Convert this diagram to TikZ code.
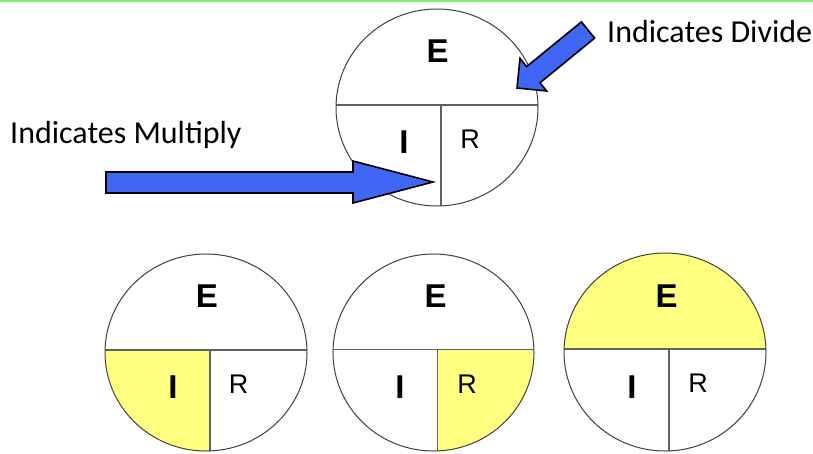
\documentclass[tikz,border=0pt]{standalone}
\usepackage{fontspec}
\setmainfont{Liberation Sans}
\newfontfamily\carl{Carlito}
\definecolor{arrowblue}{RGB}{63,102,245}
\definecolor{paleyellow}{RGB}{255,255,128}
\definecolor{topgreen}{RGB}{120,240,120}
\definecolor{rimgray}{RGB}{64,64,64}
\definecolor{divgray}{RGB}{96,96,96}
\tikzset{
  rim/.style={draw=rimgray, line width=1pt},
  divline/.style={draw=divgray, line width=1.6pt},
  bigletter/.style={anchor=base, inner sep=0pt, font=\bfseries\fontsize{33}{33}\selectfont},
  smallletter/.style={anchor=base, inner sep=0pt, font=\fontsize{27}{27}\selectfont},
  caption/.style={anchor=base west, inner sep=0pt, font=\carl\fontsize{32}{32}\selectfont},
  blockarrow/.style={fill=arrowblue, draw=black, line width=1.6pt, line join=miter},
}
\begin{document}
\begin{tikzpicture}[x=1pt,y=-1pt]
\useasboundingbox (0,0) rectangle (813,453);
\fill[white] (0,0) rectangle (813,453);
\fill[topgreen] (0,0) rectangle (813,2.2);

% top circle
\begin{scope}
  \clip (437,107.5) ellipse [x radius=101pt, y radius=98.5pt];
  \draw[divline] (330,105) -- (545,105);
  \draw[divline] (441,105) -- (441,210);
\end{scope}
\draw[rim] (437,107.5) ellipse [x radius=101pt, y radius=98.5pt];
\node[bigletter] (e0) at (437.5,62) {E};
\node[bigletter] (i0) at (404,153.5) {I};
\node[smallletter] (r0) at (470,148.3) {R};

% bottom circle 1 (I shaded)
\begin{scope}
  \clip (206,352.5) ellipse [x radius=101pt, y radius=98.5pt];
  \fill[paleyellow] (100,350) rectangle (210,460);
  \draw[divline] (100,350) -- (315,350);
  \draw[divline] (210,350) -- (210,460);
\end{scope}
\draw[rim] (206,352.5) ellipse [x radius=101pt, y radius=98.5pt];
\node[bigletter] (e1) at (207,307) {E};
\node[bigletter] (i1) at (173,398) {I};
\node[smallletter] (r1) at (238.5,393) {R};

% bottom circle 2 (R shaded)
\begin{scope}
  \clip (433.5,352.5) ellipse [x radius=100.5pt, y radius=98.5pt];
  \fill[paleyellow] (437.5,349.5) rectangle (540,460);
  \draw[divline] (325,349.5) -- (545,349.5);
  \draw[divline] (437.5,349.5) -- (437.5,460);
\end{scope}
\draw[rim] (433.5,352.5) ellipse [x radius=100.5pt, y radius=98.5pt];
\node[bigletter] (e2) at (435.5,307) {E};
\node[bigletter] (i2) at (400,398) {I};
\node[smallletter] (r2) at (467,393) {R};

% bottom circle 3 (E shaded)
\begin{scope}
  \clip (665,352) ellipse [x radius=101pt, y radius=99pt];
  \fill[paleyellow] (555,240) rectangle (775,349);
  \draw[divline] (555,349) -- (775,349);
  \draw[divline] (669,349) -- (669,460);
\end{scope}
\draw[rim] (665,352) ellipse [x radius=101pt, y radius=99pt];
\node[bigletter] (e3) at (666.5,307) {E};
\node[bigletter] (i3) at (632,398) {I};
\node[smallletter] (r3) at (698,392) {R};

% captions
\node[caption] (mul) at (10,143) {Indicates Multiply};
\node[caption] (div) at (607,42) {Indicates Divide};

% block arrows
\draw[blockarrow] (106,172) -- (353,172) -- (353,161) -- (433,182) -- (353,203) -- (353,193) -- (106,193) -- cycle;
\draw[blockarrow] (517,88) -- (546.6,91) -- (540,82.8) -- (594.6,38.1) -- (581.4,21.9) -- (526.6,66.6) -- (520,58.4) -- cycle;
\end{tikzpicture}
\end{document}
